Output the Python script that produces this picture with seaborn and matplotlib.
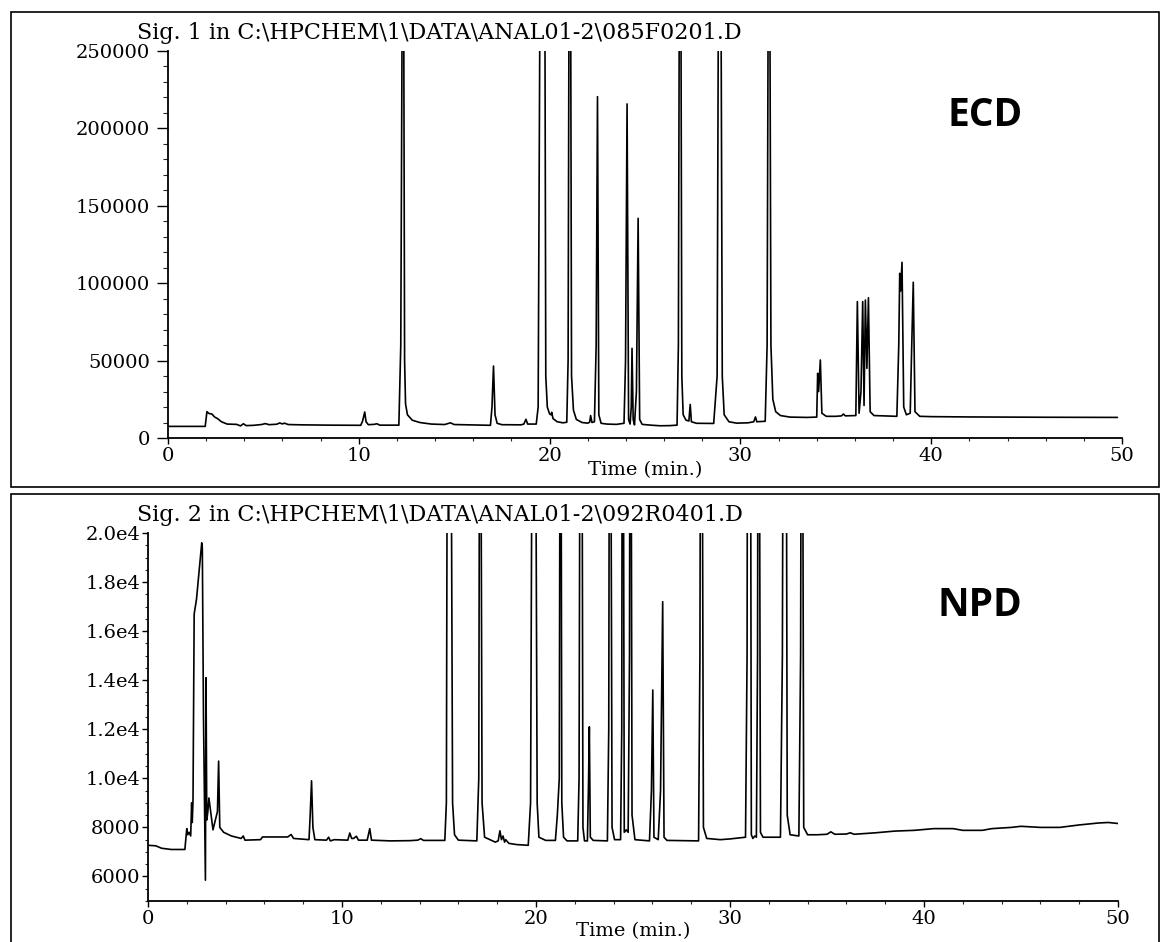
import matplotlib
matplotlib.use("Agg")
import matplotlib.pyplot as plt
from matplotlib.patches import Rectangle
from matplotlib.ticker import MultipleLocator, FixedLocator, FixedFormatter
import pandas as pd
import seaborn as sns

# ECD 크로마토그램 (시간, 신호) - 그림에서 읽은 꼭짓점
ecd_time = [0.0, 1.95, 2.04, 2.15, 2.3, 2.45, 2.6, 2.8, 3.1, 3.6,
            3.8, 3.95, 4.1, 4.5, 4.9, 5.1, 5.3, 5.7, 5.85, 6.0,
            6.1, 6.3, 7.0, 8.5, 10.1, 10.2, 10.31, 10.38, 10.5, 10.8,
            10.95, 11.1, 12.1, 12.2, 12.28, 12.35, 12.4, 12.45, 12.55, 12.8,
            13.2, 13.8, 14.5, 14.8, 15.0, 16.0, 16.9, 16.98, 17.06, 17.14,
            17.25, 17.5, 18.5, 18.65, 18.76, 18.85, 19.3, 19.4, 19.5, 19.75,
            19.8, 19.88, 20.0, 20.08, 20.11, 20.18, 20.4, 20.7, 20.9, 20.97,
            21.02, 21.1, 21.15, 21.25, 21.4, 21.7, 22.0, 22.1, 22.15, 22.22,
            22.35, 22.44, 22.51, 22.58, 22.7, 23.0, 23.5, 23.9, 23.98, 24.06,
            24.14, 24.22, 24.28, 24.32, 24.38, 24.45, 24.55, 24.64, 24.72, 24.85,
            25.3, 25.8, 26.3, 26.68, 26.75, 26.8, 26.88, 26.93, 27.0, 27.15,
            27.3, 27.37, 27.43, 27.7, 28.6, 28.78, 28.85, 28.98, 29.05, 29.15,
            29.4, 29.8, 30.4, 30.7, 30.79, 30.86, 31.3, 31.4, 31.46, 31.54,
            31.6, 31.7, 31.85, 32.1, 32.6, 33.5, 34.0, 34.05, 34.1, 34.19,
            34.27, 34.5, 35.0, 35.3, 35.4, 35.5, 36.05, 36.13, 36.22, 36.32,
            36.41, 36.48, 36.55, 36.63, 36.71, 36.8, 37.0, 38.2, 38.3, 38.35,
            38.4, 38.47, 38.56, 38.7, 38.9, 38.98, 39.06, 39.15, 39.4, 40.0,
            42.0, 46.0, 49.76]
ecd_signal = [7500, 7500, 17000, 15800, 15500, 13500, 12500, 10500, 9000, 8800,
              7800, 9200, 8000, 8200, 8700, 9300, 8600, 8900, 9700, 9100,
              9600, 8700, 8500, 8300, 8200, 11000, 16800, 10500, 8600, 8800,
              9200, 8300, 8300, 60000, 300000, 300000, 50000, 22000, 15000, 11500,
              10000, 9000, 8700, 9800, 8700, 8400, 8200, 20000, 46500, 15000,
              9500, 8600, 8500, 9000, 12100, 9000, 9000, 20000, 300000, 300000,
              40000, 20000, 15500, 15000, 16600, 12500, 10500, 9800, 10200, 50000,
              300000, 300000, 40000, 18000, 12000, 10000, 9600, 10200, 14500, 10000,
              10500, 60000, 220500, 15000, 9500, 9000, 8800, 9500, 50000, 215800,
              12000, 9000, 20000, 57900, 12000, 8500, 30000, 141900, 12000, 8800,
              8300, 7900, 8000, 8300, 60000, 300000, 300000, 40000, 15000, 11500,
              11000, 21700, 10500, 9500, 9400, 40000, 300000, 300000, 40000, 15000,
              10500, 9600, 9800, 10500, 13600, 10500, 10800, 60000, 300000, 300000,
              60000, 25000, 17000, 14500, 13500, 13300, 13500, 41800, 30000, 50400,
              16000, 14000, 14000, 14300, 15500, 14300, 14500, 88100, 16000, 30000,
              88100, 21000, 89100, 45000, 90600, 17000, 14500, 14000, 60000, 106400,
              95000, 113500, 20000, 15000, 16000, 60000, 100600, 17000, 14000, 13800,
              13600, 13400, 13300]

# NPD 크로마토그램
npd_time = [0.0, 0.4, 0.7, 1.2, 1.9, 2.0, 2.05, 2.12, 2.2, 2.25,
            2.28, 2.32, 2.38, 2.5, 2.77, 2.8, 2.86, 2.96, 2.99, 3.03,
            3.08, 3.14, 3.22, 3.35, 3.5, 3.58, 3.64, 3.7, 3.9, 4.3,
            4.8, 4.91, 5.0, 5.8, 5.9, 7.2, 7.38, 7.5, 8.3, 8.36,
            8.43, 8.5, 8.6, 9.2, 9.31, 9.4, 9.6, 10.3, 10.4, 10.5,
            10.6, 10.74, 10.85, 11.3, 11.43, 11.52, 12.5, 13.5, 13.9, 14.06,
            14.2, 15.3, 15.38, 15.44, 15.6, 15.7, 15.8, 16.0, 16.95, 17.05,
            17.1, 17.14, 17.22, 17.35, 17.9, 18.05, 18.14, 18.22, 18.3, 18.38,
            18.44, 18.6, 19.0, 19.6, 19.72, 19.82, 19.96, 20.06, 20.15, 20.5,
            21.0, 21.1, 21.16, 21.2, 21.25, 21.28, 21.33, 21.42, 21.6, 22.15,
            22.22, 22.28, 22.36, 22.42, 22.5, 22.65, 22.7, 22.75, 22.8, 22.95,
            23.68, 23.75, 23.79, 23.84, 23.92, 24.05, 24.36, 24.42, 24.45, 24.49,
            24.55, 24.65, 24.75, 24.82, 24.85, 24.89, 24.95, 25.1, 25.85, 25.95,
            26.02, 26.08, 26.3, 26.42, 26.53, 26.6, 26.75, 28.38, 28.45, 28.49,
            28.55, 28.63, 28.8, 29.5, 30.0, 30.8, 30.88, 30.91, 31.05, 31.1,
            31.18, 31.28, 31.36, 31.42, 31.45, 31.5, 31.57, 31.7, 32.6, 32.7,
            32.75, 32.89, 32.95, 33.1, 33.55, 33.64, 33.68, 33.73, 33.8, 34.0,
            34.5, 35.0, 35.2, 35.4, 36.0, 36.2, 36.4, 37.5, 38.5, 39.5,
            40.5, 41.5, 42.0, 43.0, 43.5, 44.5, 45.0, 46.0, 47.0, 48.0,
            49.0, 49.5, 50.0]
npd_signal = [7270, 7250, 7150, 7100, 7100, 7950, 7700, 7800, 7650, 9000,
              8200, 9100, 16700, 17300, 19600, 19400, 12500, 5850, 14100, 8300,
              8600, 9200, 8700, 7900, 8400, 8650, 10700, 8000, 7800, 7650,
              7550, 7650, 7480, 7500, 7610, 7610, 7710, 7550, 7500, 8500,
              9900, 8000, 7500, 7480, 7600, 7450, 7500, 7480, 7770, 7550,
              7550, 7640, 7480, 7480, 7950, 7480, 7450, 7460, 7480, 7540,
              7470, 7470, 9000, 30000, 30000, 9000, 7700, 7480, 7450, 10000,
              30000, 30000, 9000, 7600, 7400, 7450, 7860, 7500, 7650, 7400,
              7500, 7350, 7300, 7270, 9000, 30000, 30000, 9000, 7600, 7470,
              7470, 8500, 9380, 10000, 30000, 30000, 9000, 7600, 7450, 7450,
              10000, 30000, 30000, 8000, 7450, 7450, 9500, 12100, 7600, 7470,
              7450, 12000, 30000, 30000, 8000, 7500, 7500, 12000, 30000, 30000,
              7800, 7900, 7800, 15000, 30000, 30000, 8500, 7500, 7450, 9500,
              13600, 7600, 7500, 9500, 17200, 7600, 7470, 7450, 15000, 30000,
              30000, 8000, 7550, 7500, 7530, 7600, 15000, 30000, 30000, 7700,
              7550, 7650, 7600, 15000, 30000, 30000, 7800, 7600, 7600, 15000,
              30000, 30000, 8500, 7700, 7650, 15000, 30000, 30000, 8000, 7700,
              7700, 7720, 7820, 7720, 7730, 7780, 7720, 7780, 7850, 7880,
              7950, 7950, 7880, 7880, 7950, 8000, 8045, 8000, 8000, 8100,
              8180, 8200, 8160]

ecd_yticks = [0, 50000, 100000, 150000, 200000, 250000]
ecd_ylabels = ["0", "50000", "100000", "150000", "200000", "250000"]
npd_yticks = [6000, 8000, 10000, 12000, 14000, 16000, 18000, 20000]
npd_ylabels = ["6000", "8000", "1.0e4", "1.2e4", "1.4e4", "1.6e4", "1.8e4", "2.0e4"]
xticks = [0, 10, 20, 30, 40, 50]

titles = ["Sig. 1 in C:\\HPCHEM\\1\\DATA\\ANAL01-2\\085F0201.D",
          "Sig. 2 in C:\\HPCHEM\\1\\DATA\\ANAL01-2\\092R0401.D"]
detectors = ["ECD", "NPD"]

sns.set_style("ticks")
plt.rcParams["font.family"] = ["DejaVu Serif"]
plt.rcParams["text.color"] = "black"
plt.rcParams["axes.labelcolor"] = "black"

W, H = 1164, 942
fig = plt.figure(figsize=(W / 100, H / 100), dpi=100)

# 스캔 원본의 패널 테두리
fig.add_artist(Rectangle((11 / W, 1 - 487 / H), 1148 / W, 475 / H, transform=fig.transFigure,
                         fill=False, ec="black", lw=1.2))
fig.add_artist(Rectangle((11 / W, -0.01), 1148 / W, 1 - 494 / H + 0.01, transform=fig.transFigure,
                         fill=False, ec="black", lw=1.2))

ax1 = fig.add_axes([168 / W, 1 - 438 / H, 954 / W, 387 / H])
ax2 = fig.add_axes([148 / W, 1 - 901 / H, 970 / W, 368 / H])

df_ecd = pd.DataFrame({"time": ecd_time, "signal": ecd_signal})
df_npd = pd.DataFrame({"time": npd_time, "signal": npd_signal})

sns.lineplot(data=df_ecd, x="time", y="signal", ax=ax1, color="black",
             linewidth=1.2, sort=False, estimator=None)
sns.lineplot(data=df_npd, x="time", y="signal", ax=ax2, color="black",
             linewidth=1.2, sort=False, estimator=None)

ax1.set_ylim(0, 250000)
ax2.set_ylim(5000, 20000)

for ax in (ax1, ax2):
    ax.set_xlim(0, 50)
    ax.xaxis.set_major_locator(FixedLocator(xticks))
    ax.xaxis.set_minor_locator(MultipleLocator(2))
    ax.set_xticklabels([str(t) for t in xticks])
    ax.set_ylabel("")
    ax.set_xlabel("Time (min.)", fontsize=14, color="black")
    ax.tick_params(axis="both", labelsize=14, color="black", labelcolor="black")
    ax.tick_params(axis="x", which="major", length=4.5, width=1.0, pad=2)
    ax.tick_params(axis="x", which="minor", length=2.2, width=0.8)
    for s in ("left", "bottom"):
        ax.spines[s].set_linewidth(1.3)
        ax.spines[s].set_color("black")
    sns.despine(ax=ax)

ax1.yaxis.set_major_locator(FixedLocator(ecd_yticks))
ax1.yaxis.set_major_formatter(FixedFormatter(ecd_ylabels))
ax1.yaxis.set_minor_locator(MultipleLocator(10000))
ax1.tick_params(axis="y", which="major", length=8, width=1.0, pad=5)
ax1.tick_params(axis="y", which="minor", length=3.5, width=0.8)

ax2.yaxis.set_major_locator(FixedLocator(npd_yticks))
ax2.yaxis.set_major_formatter(FixedFormatter(npd_ylabels))
ax2.yaxis.set_minor_locator(MultipleLocator(500))
ax2.tick_params(axis="y", which="major", length=4.5, width=1.0, pad=1)
ax2.tick_params(axis="y", which="minor", length=2.5, width=0.8)

ax1.xaxis.set_label_coords(0.5, (438 - 461) / 387)
ax2.xaxis.set_label_coords(0.5, (901 - 922) / 368)

# 제목과 검출기 표기
fig.text(137 / W, 1 - 33 / H, titles[0], ha="left", va="center", fontsize=16, color="black")
fig.text(137 / W, 1 - 515 / H, titles[1], ha="left", va="center", fontsize=16, color="black")
fig.text(985 / W, 1 - 115 / H, detectors[0], ha="center", va="center", fontsize=28,
         fontweight="bold", color="black", family=["Open Sans", "DejaVu Sans"])
fig.text(980 / W, 1 - 605 / H, detectors[1], ha="center", va="center", fontsize=28,
         fontweight="bold", color="black", family=["Open Sans", "DejaVu Sans"])

fig.savefig("out.png", dpi=100)
